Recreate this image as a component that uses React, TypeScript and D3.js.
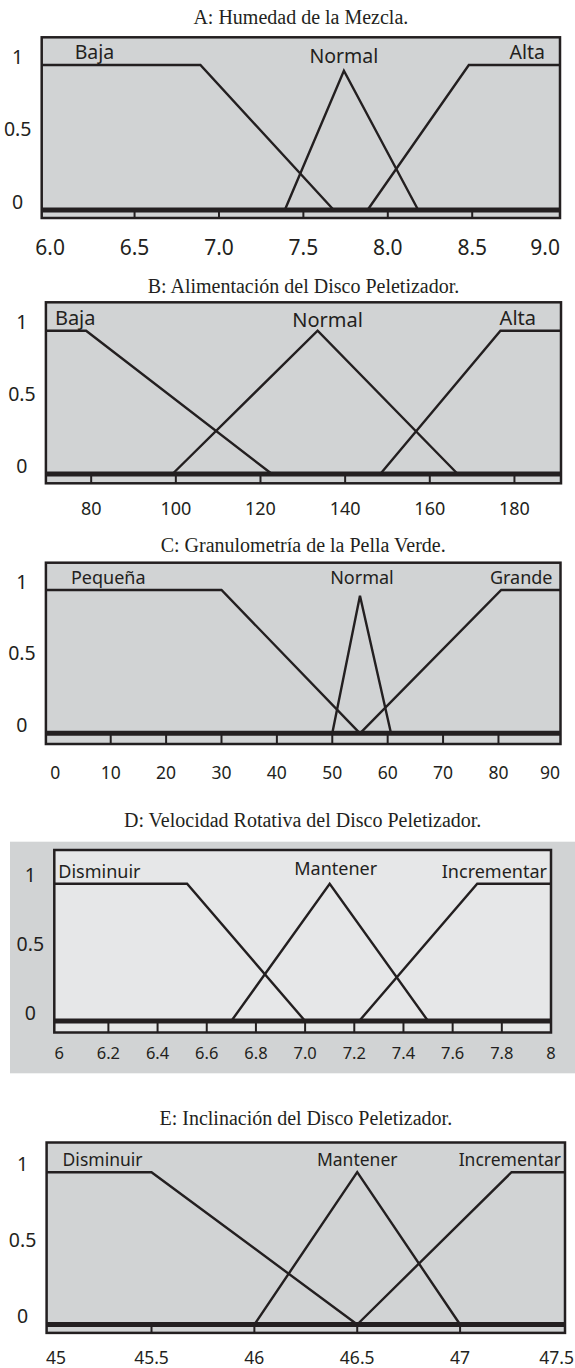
import React from "react";
import * as d3 from "d3";

// ---- A: Humedad de la Mezcla ----
const humedadExtent = [5.95, 9.02];
const humedadTicks = [6.0, 6.5, 7.0, 7.5, 8.0, 8.5, 9.0];
const humedadTickLabels = ["6.0", "6.5", "7.0", "7.5", "8.0", "8.5", "9.0"];
const humedadNames = ["Baja", "Normal", "Alta"];
const humedadLow = [6.89, 7.68]; // 1 hasta b, 0 en c
const humedadMid = [7.39, 7.74, 8.18];
const humedadHigh = [7.88, 8.48];
const humedadPeak = 0.96;

// ---- B: Alimentación del Disco Peletizador ----
const alimExtent = [69.3, 191];
const alimTicks = [80, 100, 120, 140, 160, 180];
const alimTickLabels = ["80", "100", "120", "140", "160", "180"];
const alimNames = ["Baja", "Normal", "Alta"];
const alimLow = [78.8, 122.7];
const alimMid = [99.2, 133.5, 166.6];
const alimHigh = [148.3, 176.7];
const alimPeak = 1;

// ---- C: Granulometría de la Pella Verde ----
const granExtent = [-1.7, 91.2];
const granTicks = [0, 10, 20, 30, 40, 50, 60, 70, 80, 90];
const granTickLabels = ["0", "10", "20", "30", "40", "50", "60", "70", "80", "90"];
const granNames = ["Pequeña", "Normal", "Grande"];
const granLow = [30, 55];
const granMid = [50, 55, 60.6];
const granHigh = [55, 80.5];
const granPeak = 0.96;

// ---- D: Velocidad Rotativa del Disco Peletizador ----
const velExtent = [5.98, 8.0];
const velTicks = [6, 6.2, 6.4, 6.6, 6.8, 7.0, 7.2, 7.4, 7.6, 7.8, 8];
const velTickLabels = ["6", "6.2", "6.4", "6.6", "6.8", "7.0", "7.2", "7.4", "7.6", "7.8", "8"];
const velNames = ["Disminuir", "Mantener", "Incrementar"];
const velLow = [6.52, 7.0];
const velMid = [6.7, 7.1, 7.5];
const velHigh = [7.22, 7.7];
const velPeak = 1;

// ---- E: Inclinación del Disco Peletizador ----
const incExtent = [44.99, 47.51];
const incTicks = [45, 45.5, 46, 46.5, 47, 47.5];
const incTickLabels = ["45", "45.5", "46", "46.5", "47", "47.5"];
const incNames = ["Disminuir", "Mantener", "Incrementar"];
const incLow = [45.5, 46.5];
const incMid = [46.0, 46.5, 47.0];
const incHigh = [46.5, 47.25];
const incPeak = 1;

const yTicks = [0, 0.5, 1];
const yTickLabels = ["0", "0.5", "1"];

const SANS = "'Noto Sans', 'Open Sans', sans-serif";
const SERIF = "'Liberation Serif', 'Times New Roman', serif";
const INK = "#231f20";

const panels = [
  {
    title: "A: Humedad de la Mezcla.", extent: humedadExtent, ticks: humedadTicks, tickLabels: humedadTickLabels,
    names: humedadNames, low: humedadLow, mid: humedadMid, high: humedadHigh, peak: humedadPeak,
    titleY: 17, x0: 41.7, x1: 560, top: 37.3, y1: 65, y0: 210, strip: 8, tickY: 28.7,
    labelSize: 19.5, tickSize: 21, padL: 33, padR: 15, midDx: 0, midDy: -2,
    firstMinX: 0, lastMaxX: 560, fill: "#d1d3d4",
  },
  {
    title: "B: Alimentación del Disco Peletizador.", extent: alimExtent, ticks: alimTicks, tickLabels: alimTickLabels,
    names: alimNames, low: alimLow, mid: alimMid, high: alimHigh, peak: alimPeak,
    titleY: 286, x0: 45.9, x1: 561, top: 302.3, y1: 330.7, y0: 474, strip: 9.3, tickY: 25,
    labelSize: 20, tickSize: 18, padL: 9, padR: 25, midDx: 10, midDy: -4,
    firstMinX: 0, lastMaxX: 575, fill: "#d1d3d4",
  },
  {
    title: "C: Granulometría de la Pella Verde.", extent: granExtent, ticks: granTicks, tickLabels: granTickLabels,
    names: granNames, low: granLow, mid: granMid, high: granHigh, peak: granPeak,
    titleY: 545, x0: 45.9, x1: 560.5, top: 562.7, y1: 590, y0: 733.3, strip: 10.7, tickY: 27.7,
    labelSize: 18, tickSize: 17.5, padL: 25, padR: 8, midDx: 2, midDy: -6,
    firstMinX: 0, lastMaxX: 560, fill: "#d1d3d4",
  },
  {
    title: "D: Velocidad Rotativa del Disco Peletizador.", extent: velExtent, ticks: velTicks, tickLabels: velTickLabels,
    names: velNames, low: velLow, mid: velMid, high: velHigh, peak: velPeak,
    titleY: 820, x0: 54.3, x1: 551, top: 850, y1: 883.7, y0: 1021, strip: 11.5, tickY: 20,
    labelSize: 18, tickSize: 16.5, padL: 4, padR: 4, midDx: 6, midDy: -9,
    firstMinX: 0, lastMaxX: 575, fill: "#e6e7e8",
    backdrop: { x: 10, y: 841.7, w: 565, h: 231.6, fill: "#d1d3d4" },
  },
  {
    title: "E: Inclinación del Disco Peletizador.", extent: incExtent, ticks: incTicks, tickLabels: incTickLabels,
    names: incNames, low: incLow, mid: incMid, high: incHigh, peak: incPeak,
    titleY: 1118.3, x0: 46.6, x1: 565, top: 1142.5, y1: 1172.2, y0: 1324.5, strip: 8.4, tickY: 24,
    labelSize: 17.5, tickSize: 17.5, padL: 16, padR: 4, midDx: 0, midDy: -6,
    firstMinX: 46, lastMaxX: 574, fill: "#d1d3d4",
  },
];

function Panel({ p }: { p: any }) {
  const x = d3.scaleLinear().domain(p.extent).range([p.x0, p.x1]);
  const y = d3.scaleLinear().domain([0, 1]).range([p.y0, p.y1]);
  const line = d3.line<[number, number]>().x((d) => x(d[0])).y((d) => y(d[1]));
  const [d0, d1] = p.extent;

  const shapes: [number, number][][] = [
    [[d0, 1], [p.low[0], 1], [p.low[1], 0]],
    [[p.mid[0], 0], [p.mid[1], p.peak], [p.mid[2], 0]],
    [[p.high[0], 0], [p.high[1], 1], [d1, 1]],
  ];
  const bottom = p.y0 + p.strip;
  const cx = (p.x0 + p.x1) / 2;
  // marcas de la regleta: solo las interiores
  const inner = p.ticks.filter((t: number) => x(t) > p.x0 + 12 && x(t) < p.x1 - 12);

  return (
    <g>
      {p.backdrop && (
        <rect x={p.backdrop.x} y={p.backdrop.y} width={p.backdrop.w} height={p.backdrop.h} fill={p.backdrop.fill} />
      )}
      <text x={cx} y={p.titleY} textAnchor="middle" dominantBaseline="central"
        fontFamily={SERIF} fontSize={20} fill={INK}>
        {p.title}
      </text>
      <rect x={p.x0} y={p.top} width={p.x1 - p.x0} height={bottom - p.top}
        fill={p.fill} stroke={INK} strokeWidth={2.5} />
      {inner.map((t: number) => (
        <line key={t} x1={x(t)} x2={x(t)} y1={p.y0} y2={bottom} stroke={INK} strokeWidth={2} />
      ))}
      <line x1={p.x0} x2={p.x1} y1={p.y0} y2={p.y0} stroke={INK} strokeWidth={5} />
      {shapes.map((s, i) => (
        <path key={i} d={line(s) || ""} fill="none" stroke={INK} strokeWidth={2.4} strokeLinejoin="miter" />
      ))}
      {/* nombres de los conjuntos */}
      <text x={p.x0 + p.padL} y={y(1) - 6} fontFamily={SANS} fontSize={p.labelSize} fill={INK}>
        {p.names[0]}
      </text>
      <text x={x(p.mid[1]) + p.midDx} y={y(1) + p.midDy} textAnchor="middle"
        fontFamily={SANS} fontSize={p.labelSize} fill={INK}>
        {p.names[1]}
      </text>
      <text x={p.x1 - p.padR} y={y(1) - 6} textAnchor="end" fontFamily={SANS} fontSize={p.labelSize} fill={INK}>
        {p.names[2]}
      </text>
      {/* eje y */}
      {yTicks.map((t, i) => (
        <text key={t} x={p.x0 - 24} y={y(t) - 9} textAnchor="middle" dominantBaseline="central"
          fontFamily={SANS} fontSize={19.5} fill={INK}>
          {yTickLabels[i]}
        </text>
      ))}
      {/* eje x */}
      {p.ticks.map((t: number, i: number) => {
        let anchor = "middle";
        let tx = x(t);
        const half = (p.tickLabels[i].length * 0.55 * p.tickSize) / 2;
        if (i === 0 && tx - half < p.firstMinX) { anchor = "start"; tx = p.firstMinX; }
        if (i === p.ticks.length - 1 && tx + half > p.lastMaxX) { anchor = "end"; tx = p.lastMaxX; }
        return (
          <text key={t} x={tx} y={bottom + p.tickY} textAnchor={anchor} dominantBaseline="central"
            fontFamily={SANS} fontSize={p.tickSize} fill={INK}>
            {p.tickLabels[i]}
          </text>
        );
      })}
    </g>
  );
}

export default function App() {
  return (
    <div style={{ position: "absolute", left: 0, top: 0, background: "#fff" }}>
      <svg width={575} height={1368} style={{ display: "block" }}>
        <rect width={575} height={1368} fill="#fff" />
        {panels.map((p) => (
          <Panel key={p.title} p={p} />
        ))}
      </svg>
    </div>
  );
}
